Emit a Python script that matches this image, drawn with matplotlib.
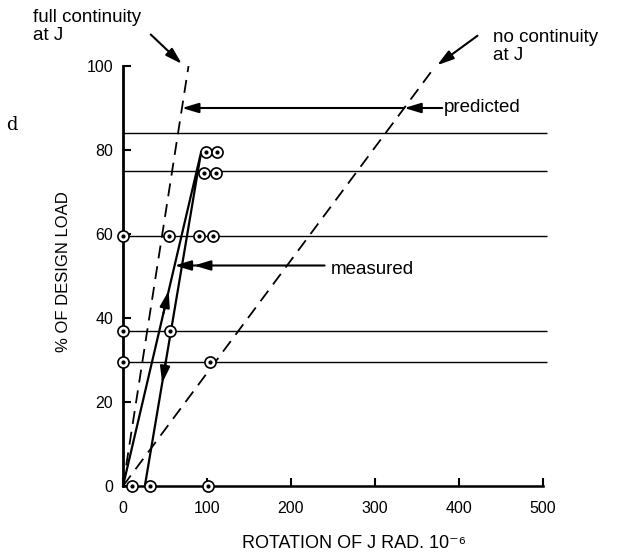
import numpy as np
import matplotlib
matplotlib.use("Agg")
import matplotlib.pyplot as plt

plt.rcParams['font.family'] = ['Liberation Sans', 'DejaVu Sans']

# load levels held during the test (horizontal lines across the chart)
load_levels = [84, 75, 59.5, 37, 29.5]
line_end = 505

# predicted rotation lines (rotation at 100 % load)
full_cont = [0, 78]
no_cont = [0, 372]
pred_load = [0, 100]

# measured path: loading then unloading
meas_rot = [0, 93, 26]
meas_load = [0, 79.5, 0]

# measured points
pt_rot = [99, 112, 96, 111, 0, 55, 90, 107, 0, 56, 0, 104, 11, 32, 101]
pt_load = [79.5, 79.5, 74.5, 74.5, 59.5, 59.5, 59.5, 59.5, 37, 37, 29.5, 29.5, 0, 0, 0]

xticks = [0, 100, 200, 300, 400, 500]
yticks = [0, 20, 40, 60, 80, 100]

# where the call-out arrows sit
pred_y = 90
meas_y = 52.5

W, H = 630, 554
fig = plt.figure(figsize=(W / 100, H / 100), dpi=100)
ax = fig.add_axes([123 / W, 68 / H, 420 / W, 420 / H])

ax.hlines(load_levels, 0, line_end, colors="black", lw=1.0, clip_on=False)

dash = (0, (7.2, 4.4))
ax.plot(full_cont, pred_load, color="black", lw=1.3, ls=dash)
ax.plot(no_cont, pred_load, color="black", lw=1.3, ls=dash)

ax.plot(meas_rot, meas_load, color="black", lw=1.6, clip_on=False)

ax.plot(pt_rot, pt_load, ls="none", marker="o", ms=8, mfc="white", mec="black",
        mew=1.2, clip_on=False, zorder=5)
ax.plot(pt_rot, pt_load, ls="none", marker="o", ms=2, color="black",
        clip_on=False, zorder=6)

head = "-|>,head_length=1.0,head_width=0.3"
aprops = dict(arrowstyle=head, color="black", lw=1.5, shrinkA=0, shrinkB=0)


def on_line(xs, ys, y):
    # x position on a straight segment for a given load
    return xs[0] + (xs[1] - xs[0]) * (y - ys[0]) / (ys[1] - ys[0])


# arrowheads along the measured path
up = [on_line(meas_rot[:2], meas_load[:2], y) for y in (41, 46.5)]
ax.annotate("", xy=(up[1], 46.5), xytext=(up[0], 41), arrowprops=aprops)
dn = [on_line(meas_rot[1:], meas_load[1:], y) for y in (30, 24.5)]
ax.annotate("", xy=(dn[1], 24.5), xytext=(dn[0], 30), arrowprops=aprops)

# predicted call-out
x_full = on_line(full_cont, pred_load, pred_y)
x_no = on_line(no_cont, pred_load, pred_y)
ax.annotate("", xy=(x_full, pred_y), xytext=(x_no, pred_y), arrowprops=aprops)
ax.annotate("", xy=(x_no, pred_y), xytext=(380, pred_y), arrowprops=aprops,
            annotation_clip=False)
ax.text(382, pred_y, "predicted", fontsize=13.5, va="center", ha="left", clip_on=False)

# measured call-out
x_meas = on_line(meas_rot[:2], meas_load[:2], meas_y)
ax.annotate("", xy=(x_meas, meas_y), xytext=(240, meas_y), arrowprops=aprops)
ax.annotate("", xy=(x_meas + 23, meas_y), xytext=(x_meas + 40, meas_y), arrowprops=aprops)
ax.text(247, meas_y - 1, "measured", fontsize=13.5, va="center", ha="left")

# labels above the plot
ax.annotate("", xy=(full_cont[1] - 8, 100.5), xytext=(full_cont[1] - 45, 107.5),
            arrowprops=aprops, annotation_clip=False)
ax.annotate("", xy=(no_cont[1] + 2, 100.2), xytext=(no_cont[1] + 50, 107.2),
            arrowprops=aprops, annotation_clip=False)
fig.text(33 / W, 1 - 9 / H, "full continuity\nat J", fontsize=13.5, va="top",
         ha="left", linespacing=1.05)
fig.text(493 / W, 1 - 29 / H, "no continuity\nat J", fontsize=13.5, va="top",
         ha="left", linespacing=1.05)

ax.set_xlim(0, 500)
ax.set_ylim(0, 100)
ax.set_xticks(xticks)
ax.set_yticks(yticks)
ax.spines["top"].set_visible(False)
ax.spines["right"].set_visible(False)
ax.spines["left"].set_linewidth(2.0)
ax.spines["bottom"].set_linewidth(1.8)
ax.tick_params(axis="x", direction="in", length=6, width=1.5, pad=11, labelsize=11.5)
ax.tick_params(axis="y", direction="in", length=6, width=1.5, pad=7, labelsize=11.5)

fig.text(63 / W, 1 - 272 / H, "% OF DESIGN LOAD", rotation=90, fontsize=12,
         ha="center", va="center")
fig.text(354 / W, 1 - 543 / H, "ROTATION OF J RAD. 10⁻⁶", fontsize=13,
         ha="center", va="center")
fig.text(6 / W, 1 - 125 / H, "d", fontsize=13, family="serif", ha="left", va="center")

fig.savefig("out.png", dpi=100)
